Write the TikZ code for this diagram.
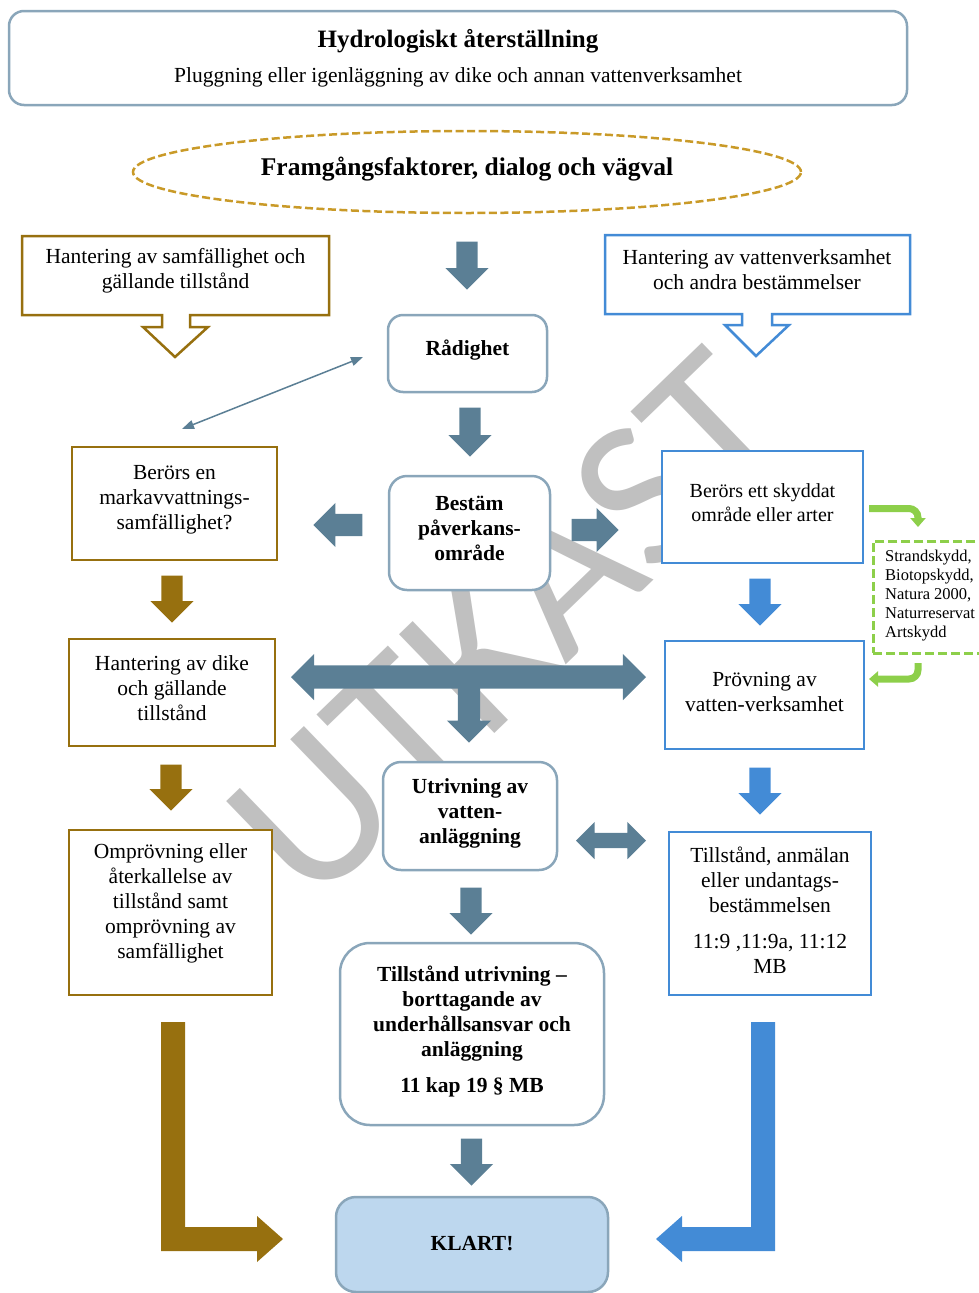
\documentclass[tikz,border=0pt]{standalone}
\usepackage{fontspec}
\setmainfont{Liberation Serif}
\newfontfamily\wmfont{Carlito}
\usetikzlibrary{shapes.geometric,shapes.arrows,arrows.meta}
\definecolor{steel}{HTML}{5B7F95}
\definecolor{boxln}{HTML}{8AA6BA}
\definecolor{brn}{HTML}{97700F}
\definecolor{blu}{HTML}{438BD6}
\definecolor{grn}{HTML}{8DCF4A}
\definecolor{gold}{HTML}{C99A28}
\definecolor{klfill}{HTML}{BDD7EE}
\definecolor{wmgray}{HTML}{C0C0C0}
\newcommand\fsz[2]{\fontsize{#1}{#2}\selectfont}
\begin{document}
\begin{tikzpicture}[x=1pt,y=-1pt,
  rbox/.style={draw=boxln, line width=2.5pt, fill=white, rounded corners=#1, inner sep=0pt},
  rbox/.default=15pt,
  bbox/.style={draw=brn, line width=2.5pt, fill=white, inner sep=0pt},
  ubox/.style={draw=blu, line width=2.5pt, fill=white, inner sep=0pt},
  txt/.style={align=center, inner sep=0pt, font=\fsz{21.5}{25}},
  btxt/.style={align=center, inner sep=0pt, font=\fsz{21.5}{25}\bfseries},
  sarr/.style={single arrow, single arrow head extend=11pt, single arrow head indent=0pt,
    inner xsep=0pt, inner ysep=10.5pt, draw=none, fill=#1, anchor=tip},
  sarr/.default=steel,
  darr/.style={double arrow, double arrow head extend=11.5pt, double arrow head indent=0pt,
    inner xsep=0pt, inner ysep=11.5pt, draw=none, fill=steel},
  garr/.style={draw=grn, line width=7pt, rounded corners=9pt, -{Triangle[width=15pt,length=9pt]}},
  thinarr/.style={draw=steel, line width=1.5pt,
    {Triangle[width=9pt,length=12pt]}-{Triangle[width=9pt,length=12pt]}}
]
\useasboundingbox (0,0) rectangle (979,1293);

% watermark
\node[text=wmgray, font=\wmfont\fsz{214}{214}, rotate=44, inner sep=0pt] (wmark) at (508,626) {UTKAST};

% top box
\node[rbox, minimum width=898pt, minimum height=94pt] (top) at (458,58) {};
\node[btxt, font=\fsz{25}{28}\bfseries] (ttl) at (458,41) {Hydrologiskt återställning};
\node[txt] (sub) at (458,77) {Pluggning eller igenläggning av dike och annan vattenverksamhet};

% ellipse
\node[ellipse, draw=gold, line width=2.5pt, dash pattern=on 8pt off 3.5pt, minimum width=668pt, minimum height=82pt, inner sep=0pt] (ell) at (467,172) {};
\node[btxt, font=\fsz{25.5}{28}\bfseries] (ellt) at (467,169) {Framgångsfaktorer, dialog och vägval};

% callouts
\draw[brn, line width=2.5pt, fill=white] (22,236) -- (329,236) -- (329,315) -- (190,315) -- (190,327) -- (208,327) -- (175,357) -- (143,327) -- (162,327) -- (162,315) -- (22,315) -- cycle;
\node[txt] (hsam) at (175.5,271) {Hantering av samfällighet och\\gällande tillstånd};
\draw[blu, line width=2.5pt, fill=white] (605,235) -- (910,235) -- (910,314) -- (772,314) -- (772,325) -- (789,325) -- (756,356) -- (725,325) -- (742,325) -- (742,314) -- (605,314) -- cycle;
\node[txt] (hvat) at (757,270) {Hantering av vattenverksamhet\\och andra bestämmelser};

% boxes
\node[rbox, minimum width=159pt, minimum height=77pt] (rad) at (467.5,353.5) {};
\node[btxt] (radt) at (467.5,350) {Rådighet};

\node[bbox, minimum width=205pt, minimum height=113pt] (mark) at (174.5,503.5) {};
\node[txt] (markt) at (174.5,500) {Berörs en\\markavvattnings-\\samfällighet?};

\node[rbox=18pt, minimum width=161pt, minimum height=114pt] (best) at (469.5,533) {};
\node[btxt] (bestt) at (469.5,528) {Bestäm\\påverkans-\\område};

\node[ubox, minimum width=201pt, minimum height=112pt] (skydd) at (762.5,507) {};
\node[txt, font=\fsz{20}{24}] (skyddt) at (762.5,503) {Berörs ett skyddat\\område eller arter};

\node[bbox, minimum width=206pt, minimum height=107pt] (dike) at (172,692.5) {};
\node[txt] (diket) at (172,688.5) {Hantering av dike\\och gällande\\tillstånd};

\node[ubox, minimum width=199pt, minimum height=108pt] (prov) at (764.5,695) {};
\node[txt] (provt) at (764.5,692) {Prövning av\\vatten-verksamhet};

\node[rbox=18pt, minimum width=174pt, minimum height=108pt] (utriv) at (470,816) {};
\node[btxt] (utrivt) at (470,813) {Utrivning av\\vatten-\\anläggning};

\node[bbox, minimum width=203pt, minimum height=165pt] (ompr) at (170.5,912.5) {};
\node[txt] (omprt) at (170.5,903.5) {Omprövning eller\\återkallelse av\\tillstånd samt\\omprövning av\\samfällighet};

\node[ubox, minimum width=202pt, minimum height=163pt] (tills) at (770,913.5) {};
\node[txt] (tillst) at (770,910.5) {Tillstånd, anmälan\\eller undantags-\\bestämmelsen\\[11pt]11:9 ,11:9a, 11:12\\MB};

\node[rbox=30pt, minimum width=264pt, minimum height=182pt] (tutr) at (472,1034) {};
\node[btxt] (tutrt) at (472,1031) {Tillstånd utrivning –\\borttagande av\\underhållsansvar och\\anläggning\\[11pt]11 kap 19 § MB};

\node[rbox=20pt, fill=klfill, minimum width=272pt, minimum height=95pt] (klart) at (472,1244.5) {};
\node[btxt] (klartt) at (472,1244) {KLART!};

% green box
\node[draw=grn, line width=2.5pt, dash pattern=on 9pt off 4pt, anchor=north west, minimum width=125pt, minimum height=112pt, inner sep=0pt] (gbox) at (872,540) {};
\node[align=left, inner sep=0pt, anchor=west, font=\fsz{16.5}{18.8}] (gboxt) at (885,595.5) {Strandskydd,\\Biotopskydd,\\Natura 2000,\\Naturreservat\\Artskydd};

% green bent arrows
\coordinate (g1) at (869,508.5);
\coordinate (g2) at (918,527);
\coordinate (g3) at (918,663);
\coordinate (g4) at (869,679);
\draw[garr] (g1) -| (g2);
\draw[garr] (g3) |- (g4);

% thin double arrow
\coordinate (c1) at (182,429);
\coordinate (c2) at (363,357);
\draw[thinarr] (c1) -- (c2);

% block arrows (placed by their tips)
\node[sarr, rotate=-90, minimum height=48pt] (a1) at (467,290) {};
\node[sarr, rotate=-90, minimum height=49pt] (a2) at (470,457) {};
\node[sarr=brn, rotate=-90, minimum height=47pt] (a3) at (172,623) {};
\node[sarr=blu, rotate=-90, minimum height=47pt] (a4) at (760,626) {};
\node[sarr=brn, rotate=-90, minimum height=46pt] (a5) at (171,811) {};
\node[sarr=blu, rotate=-90, minimum height=47pt] (a6) at (760,815) {};
\node[sarr, rotate=-90, minimum height=47pt] (a7) at (471,935) {};
\node[sarr, rotate=-90, minimum height=47pt] (a8) at (471.5,1186) {};
\node[sarr, rotate=180, minimum height=49pt, inner ysep=11pt] (a9) at (313,525) {};
\node[sarr, minimum height=47pt, inner ysep=11pt] (a10) at (619,530) {};
\node[sarr, rotate=-90, minimum height=63pt, inner ysep=11pt] (a11) at (469,743) {};
\node[darr, minimum height=355pt] (dbig) at (468.5,677) {};
\node[darr, minimum height=70pt, inner ysep=7.5pt, double arrow head extend=11pt] (dsmall) at (611,840.5) {};

% L arrows
\fill[brn] (161,1022) -- (185,1022) -- (185,1227) -- (257,1227) -- (257,1216) -- (283,1239) -- (257,1262) -- (257,1251) -- (161,1251) -- cycle;
\fill[blu] (775,1022) -- (751,1022) -- (751,1227) -- (682,1227) -- (682,1216) -- (656,1239) -- (682,1262) -- (682,1251) -- (775,1251) -- cycle;
\end{tikzpicture}
\end{document}
